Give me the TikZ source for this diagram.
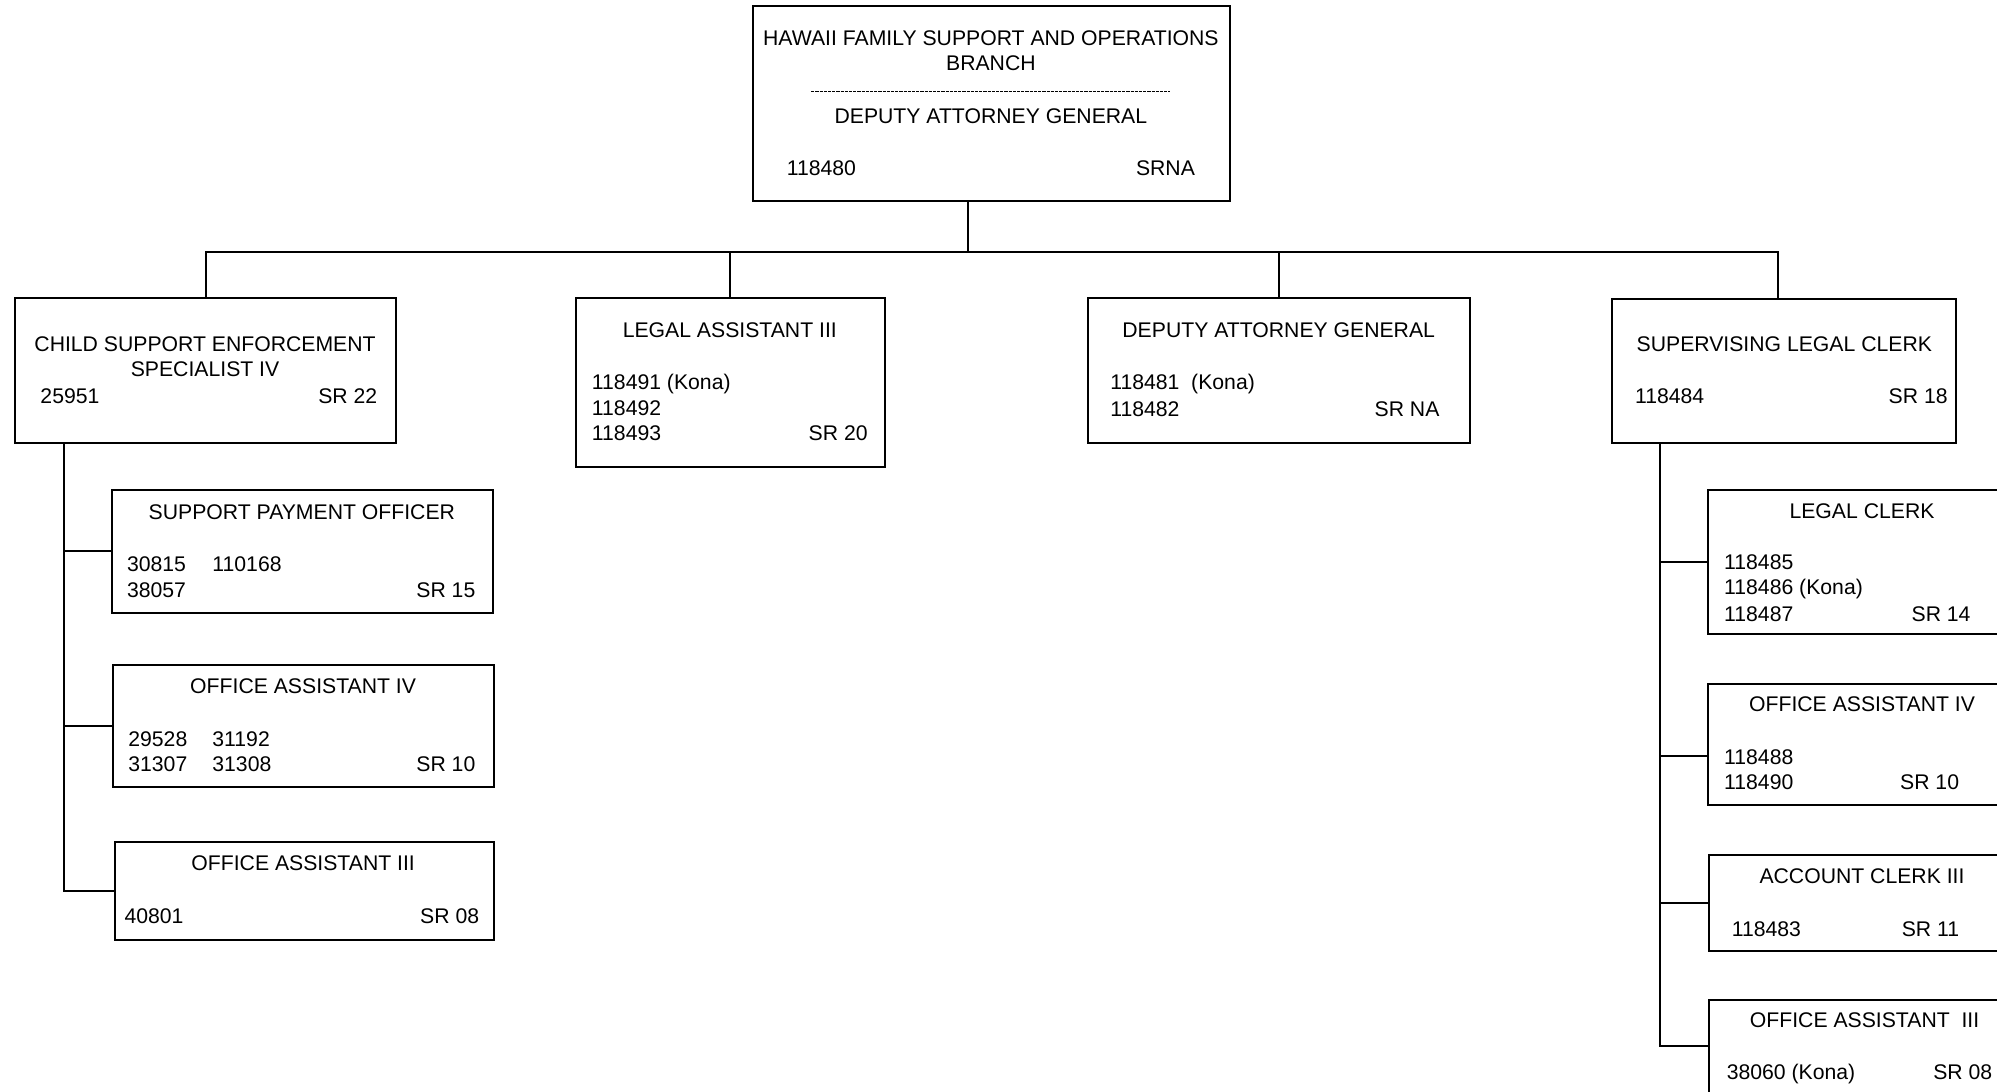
\documentclass[tikz,border=0pt]{standalone}
\usepackage{fontspec}
\setmainfont{Liberation Sans}
\usetikzlibrary{positioning}

\begin{document}
\begin{tikzpicture}[x=0.6368pt,y=-0.6368pt,line width=1pt,
  font=\fontsize{10.6}{12.7}\selectfont,
  box/.style={draw,rectangle,inner sep=0pt},
  ttl/.style={inner sep=0pt,align=center},
  num/.style={inner sep=0pt,text height=7.6pt,text depth=0pt,anchor=west},
  grd/.style={inner sep=0pt,text height=7.6pt,text depth=0pt,anchor=east}]
\useasboundingbox (0,0) rectangle (1568,857);

% boxes
\node[box,minimum width=238.8pt,minimum height=97.4pt] (top) at (778.5,81.5) {};
\node[box,minimum width=190.4pt,minimum height=72.6pt] (cse) at (161.5,291) {};
\node[box,minimum width=154.7pt,minimum height=84.7pt] (la) at (573.5,300.5) {};
\node[box,minimum width=191.0pt,minimum height=72.6pt] (dag) at (1004,291) {};
\node[box,minimum width=171.9pt,minimum height=72.0pt] (slc) at (1401,291.5) {};
\node[box,minimum width=190.4pt,minimum height=61.1pt] (spo) at (237.5,433) {};
\node[box,minimum width=190.4pt,minimum height=61.1pt] (oa4l) at (238.5,570) {};
\node[box,minimum width=189.8pt,minimum height=49.0pt] (oa3l) at (239,699.5) {};
\node[box,minimum width=154.1pt,minimum height=72.0pt] (lc) at (1462,441.5) {};
\node[box,minimum width=154.1pt,minimum height=60.5pt] (oa4r) at (1462,584.5) {};
\node[box,minimum width=153.5pt,minimum height=48.4pt] (acr) at (1462.5,709) {};
\node[box,minimum width=153.5pt,minimum height=49.0pt] (oa3r) at (1462.5,823.5) {};

% top box
\node[ttl] (topt) at (778,40) {HAWAII FAMILY SUPPORT AND OPERATIONS\\BRANCH};
\draw[line width=0.7pt,dash pattern=on 1.6pt off 0.5pt] (637,72) coordinate (dl) -- (919,72) coordinate (dr);
\node[ttl] (topd) at (778,91) {DEPUTY ATTORNEY GENERAL};
\node[num] (topn) at (617,132) {118480};
\node[grd] (topg) at (939,132) {SRNA};

% first level
\node[ttl] (cset) at (161,280) {CHILD SUPPORT ENFORCEMENT\\SPECIALIST IV};
\node[num] (csen) at (31,311) {25951};
\node[grd] (cseg) at (297,311) {SR 22};

\node[ttl] (lat) at (573,259) {LEGAL ASSISTANT III};
\node[num] (lan1) at (464,300) {118491 (Kona)};
\node[num] (lan2) at (464,320) {118492};
\node[num] (lan3) at (464,340) {118493};
\node[grd] (lag) at (682,340) {SR 20};

\node[ttl] (dagt) at (1004,259) {DEPUTY ATTORNEY GENERAL};
\node[num] (dagn1) at (871,300) {118481\ \ (Kona)};
\node[num] (dagn2) at (871,321) {118482};
\node[grd] (dagg) at (1131,321) {SR NA};

\node[ttl] (slct) at (1401,270) {SUPERVISING LEGAL CLERK};
\node[num] (slcn) at (1283,311) {118484};
\node[grd] (slcg) at (1530,311) {SR 18};

% left column
\node[ttl] (spot) at (237,402) {SUPPORT PAYMENT OFFICER};
\node[num] (spon1) at (99,443) {30815};
\node[num] (spon2) at (166,443) {110168};
\node[num] (spon3) at (99,463) {38057};
\node[grd] (spog) at (374,463) {SR 15};

\node[ttl] (oa4lt) at (238,539) {OFFICE ASSISTANT IV};
\node[num] (oa4ln1) at (100,580) {29528};
\node[num] (oa4ln2) at (166,580) {31192};
\node[num] (oa4ln3) at (100,600) {31307};
\node[num] (oa4ln4) at (166,600) {31308};
\node[grd] (oa4lg) at (374,600) {SR 10};

\node[ttl] (oa3lt) at (238,678) {OFFICE ASSISTANT III};
\node[num] (oa3ln) at (97,719) {40801};
\node[grd] (oa3lg) at (377,719) {SR 08};

% right column
\node[ttl] (lct) at (1462,401) {LEGAL CLERK};
\node[num] (lcn1) at (1353,441) {118485};
\node[num] (lcn2) at (1353,461) {118486 (Kona)};
\node[num] (lcn3) at (1353,482) {118487};
\node[grd] (lcg) at (1548,482) {SR 14};

\node[ttl] (oa4rt) at (1462,553) {OFFICE ASSISTANT IV};
\node[num] (oa4rn1) at (1353,594) {118488};
\node[num] (oa4rn2) at (1353,614) {118490};
\node[grd] (oa4rg) at (1539,614) {SR 10};

\node[ttl] (acrt) at (1462,688) {ACCOUNT CLERK III};
\node[num] (acrn) at (1359,729) {118483};
\node[grd] (acrg) at (1539,729) {SR 11};

\node[ttl] (oa3rt) at (1464,801) {OFFICE ASSISTANT\ \ III};
\node[num] (oa3rn) at (1355,842) {38060 (Kona)};
\node[grd] (oa3rg) at (1565,842) {SR 08};

% connectors
\coordinate (bar) at (760,198);
\draw (bar |- top.south) -- (bar);
\draw (cse.north) |- (bar) -| ([xshift=-3.2pt]slc.north);
\draw (la.north) -- (la.north |- bar);
\draw (dag.north) -- (dag.north |- bar);

\coordinate (lsp) at ([xshift=24.8pt]cse.south west);
\draw (lsp) |- (oa3l.west);
\foreach \b in {spo,oa4l} \draw (\b.west) -- (\b.west -| lsp);

\coordinate (rsp) at ([xshift=24.2pt]slc.south west);
\draw (rsp) |- ([yshift=1.6pt]oa3r.west);
\foreach \b in {lc,acr} \draw (\b.west) -- (\b.west -| rsp);
\draw ([yshift=-6pt]oa4r.west) -- ([yshift=-6pt]oa4r.west -| rsp);
\end{tikzpicture}
\end{document}
